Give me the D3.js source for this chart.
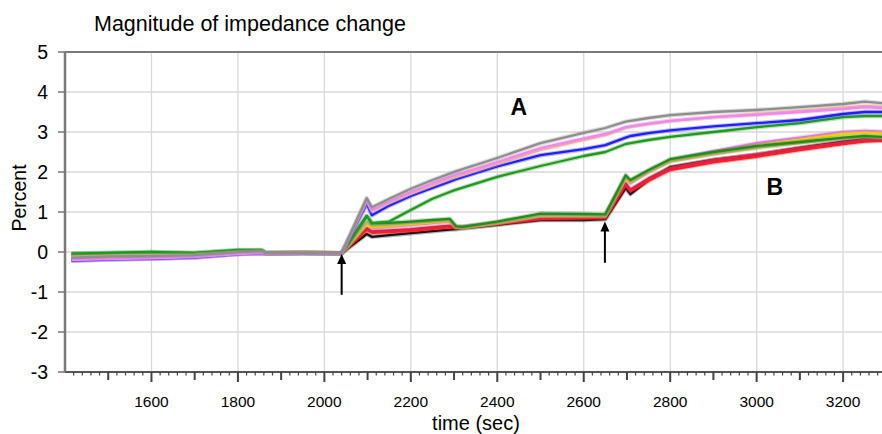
<!DOCTYPE html>
<html>
<head>
<meta charset="utf-8">
<script src="https://cdn.jsdelivr.net/npm/d3@7"></script>
<style>
  body { margin: 0; background: #fff; }
  .chart { width: 882px; height: 434px; }
  text { font-family: "Liberation Sans", Arial, sans-serif; fill: #000; }
</style>
</head>
<body>
<div class="chart"></div>
<script>
// sample times (sec), shared by every trace
var times = [1415, 1500, 1600, 1700, 1800, 1855, 1865, 1950, 2040, 2098, 2110, 2150, 2200, 2250, 2290, 2305, 2320,
             2400, 2500, 2600, 2650, 2697, 2708, 2750, 2800, 2900, 3000, 3100, 3200, 3250, 3290];

// group A traces (percent)
var grayA   = [-0.14,-0.11,-0.10,-0.08,0.00,0.02,-0.03,-0.02,-0.03, 1.35,1.12,1.33,1.58,1.80,1.96,2.02,2.07,2.35,2.72,2.98,3.10,3.26,3.28,3.35,3.42,3.50,3.55,3.62,3.70,3.76,3.72];
var violetA = [-0.20,-0.18,-0.16,-0.13,-0.05,-0.03,-0.04,-0.03,-0.03, 1.30,1.05,1.26,1.50,1.72,1.88,1.94,1.98,2.25,2.60,2.84,2.95,3.12,3.14,3.21,3.28,3.37,3.43,3.50,3.57,3.62,3.60];
var tanA    = [-0.12,-0.10,-0.08,-0.07,-0.01,0.01,-0.03,-0.02,-0.03, 1.28,1.02,1.23,1.46,1.67,1.83,1.88,1.93,2.20,2.55,2.80,2.92,3.10,3.13,3.20,3.27,3.37,3.45,3.53,3.61,3.65,3.63];
var blueA   = [-0.22,-0.19,-0.17,-0.14,-0.05,-0.03,-0.04,-0.03,-0.03, 1.20,0.92,1.16,1.40,1.60,1.76,1.82,1.87,2.14,2.42,2.57,2.67,2.86,2.90,2.97,3.04,3.14,3.22,3.30,3.45,3.50,3.50];
var greenA  = [-0.04,-0.02,0.00,-0.02,0.05,0.05,-0.02,-0.02,-0.03, 0.90,0.72,0.76,1.05,1.33,1.50,1.56,1.61,1.88,2.15,2.40,2.50,2.70,2.72,2.80,2.88,3.00,3.12,3.22,3.37,3.40,3.40];

// group B traces (percent)
var greenB   = [-0.05,-0.03,-0.01,-0.03,0.04,0.04,-0.02,-0.02,-0.03, 0.90,0.72,0.73,0.76,0.80,0.83,0.64,0.63,0.76,0.96,0.95,0.94,1.92,1.80,2.05,2.32,2.50,2.65,2.75,2.86,2.90,2.88];
var khakiB   = [-0.10,-0.08,-0.07,-0.06,0.00,0.02,-0.03,-0.02,-0.03, 0.75,0.66,0.68,0.72,0.76,0.80,0.61,0.60,0.72,0.90,0.90,0.90,1.88,1.76,2.00,2.26,2.44,2.60,2.72,2.84,2.88,2.86];
var yellowB  = [-0.13,-0.11,-0.09,-0.08,-0.02,0.00,-0.03,-0.02,-0.03, 0.70,0.62,0.65,0.70,0.74,0.78,0.63,0.62,0.74,0.92,0.92,0.92,1.85,1.75,2.02,2.28,2.48,2.66,2.80,2.95,2.98,2.96];
var violetB  = [-0.21,-0.18,-0.16,-0.13,-0.05,-0.03,-0.04,-0.03,-0.03, 0.72,0.60,0.63,0.67,0.72,0.76,0.63,0.62,0.74,0.92,0.92,0.92,1.85,1.72,2.00,2.30,2.52,2.72,2.86,3.00,3.03,3.01];
var crimsonB = [-0.15,-0.13,-0.11,-0.09,-0.03,-0.01,-0.03,-0.02,-0.03, 0.60,0.52,0.54,0.57,0.62,0.66,0.63,0.63,0.72,0.85,0.87,0.88,1.72,1.56,1.84,2.10,2.30,2.44,2.60,2.74,2.80,2.80];
var redB     = [-0.14,-0.12,-0.10,-0.08,-0.02,0.00,-0.03,-0.02,-0.03, 0.55,0.48,0.50,0.53,0.58,0.62,0.60,0.61,0.70,0.82,0.84,0.85,1.68,1.52,1.78,2.05,2.24,2.38,2.55,2.70,2.76,2.78];
var blackB   = [-0.18,-0.15,-0.13,-0.11,-0.04,-0.02,-0.04,-0.03,-0.03, 0.45,0.38,0.42,0.47,0.52,0.56,0.57,0.59,0.68,0.80,0.80,0.82,1.60,1.45,1.80,2.12,2.30,2.43,2.60,2.76,2.82,2.80];

var xTicks = [1600, 1800, 2000, 2200, 2400, 2600, 2800, 3000, 3200];
var yTicks = [-3, -2, -1, 0, 1, 2, 3, 4, 5];

// injection arrows: time, tip value, tail value
var arrowTimes = [2040, 2649];
var arrowTips  = [-0.05, 0.76];
var arrowTails = [-1.07, -0.27];

// group labels
var groupNames  = ["A", "B"];
var groupTimes  = [2450, 3042];
var groupValues = [3.42, 1.42];

var traces = [
  {name: "blackB",   color: "#111111", values: blackB},
  {name: "redB",     color: "#ff2222", values: redB},
  {name: "crimsonB", color: "#e0204a", values: crimsonB},
  {name: "violetB",  color: "#d977e0", values: violetB},
  {name: "yellowB",  color: "#f2cf00", values: yellowB},
  {name: "khakiB",   color: "#bcb06a", values: khakiB},
  {name: "greenB",   color: "#228b22", values: greenB},
  {name: "greenA",   color: "#1f9a1f", values: greenA},
  {name: "blueA",    color: "#1f1fff", values: blueA},
  {name: "tanA",     color: "#ebb592", values: tanA},
  {name: "violetA",  color: "#ee88ee", values: violetA},
  {name: "grayA",    color: "#8e8e8e", values: grayA}
];

var margin = {top: 52, right: 0, bottom: 62, left: 65},
    width = 882 - margin.left - margin.right,
    height = 434 - margin.top - margin.bottom;

var x = d3.scaleLinear().domain([1400, 3290]).range([0, width]);
var y = d3.scaleLinear().domain([-3, 5]).range([height, 0]);

var svg = d3.select(".chart").append("svg")
    .attr("width", 882)
    .attr("height", 434);

svg.append("text")
    .attr("x", 94)
    .attr("y", 31)
    .style("font-size", "21.5px")
    .text("Magnitude of impedance change");

var g = svg.append("g")
    .attr("transform", "translate(" + margin.left + "," + margin.top + ")");

svg.append("defs").append("clipPath").attr("id", "clip")
  .append("rect").attr("width", width).attr("height", height);

// grid
g.selectAll(".vgrid").data(xTicks).enter().append("line")
    .attr("x1", function(d) { return x(d); })
    .attr("x2", function(d) { return x(d); })
    .attr("y1", 0).attr("y2", height)
    .attr("stroke", "#d8d8d8").attr("stroke-width", 1.3);

g.selectAll(".hgrid").data(yTicks.slice(1, -1)).enter().append("line")
    .attr("x1", 0).attr("x2", width)
    .attr("y1", function(d) { return y(d); })
    .attr("y2", function(d) { return y(d); })
    .attr("stroke", "#d8d8d8").attr("stroke-width", 1.6);

// top frame line
g.append("line")
    .attr("x1", 0).attr("x2", width)
    .attr("y1", 0).attr("y2", 0)
    .attr("stroke", "#7a7a7a").attr("stroke-width", 2);

// x axis: major every 200, medium every 100, minor every 20
var xAxis = g.append("g").attr("transform", "translate(0," + height + ")");
xAxis.append("line")
    .attr("x1", 0).attr("x2", width)
    .attr("stroke", "#555").attr("stroke-width", 2);

xAxis.selectAll(".tick").data(d3.range(1420, 3291, 20)).enter().append("line")
    .attr("x1", function(d) { return x(d); })
    .attr("x2", function(d) { return x(d); })
    .attr("y1", 0)
    .attr("y2", function(d) { return d % 200 === 0 ? 10 : (d % 100 === 0 ? 8 : 3.5); })
    .attr("stroke", "#444")
    .attr("stroke-width", function(d) { return d % 100 === 0 ? 2 : 1.2; });

xAxis.selectAll(".lbl").data(xTicks).enter().append("text")
    .attr("x", function(d) { return x(d); })
    .attr("y", 35)
    .style("font-size", "15.5px")
    .style("text-anchor", "middle")
    .text(function(d) { return d; });

svg.append("text")
    .attr("x", 476)
    .attr("y", 430)
    .style("font-size", "20px")
    .style("text-anchor", "middle")
    .text("time (sec)");

// y axis
var yAxis = g.append("g");
yAxis.append("line")
    .attr("y1", 0).attr("y2", height)
    .attr("stroke", "#7a7a7a").attr("stroke-width", 2.5);

yAxis.selectAll(".tick").data(yTicks).enter().append("line")
    .attr("x1", -7).attr("x2", 0)
    .attr("y1", function(d) { return y(d); })
    .attr("y2", function(d) { return y(d); })
    .attr("stroke", "#777").attr("stroke-width", 1.5);

yAxis.selectAll(".lbl").data(yTicks).enter().append("text")
    .attr("x", -17)
    .attr("y", function(d) { return y(d); })
    .attr("dy", "0.36em")
    .style("font-size", "19.5px")
    .style("text-anchor", "end")
    .text(function(d) { return d; });

svg.append("text")
    .attr("transform", "translate(26,198) rotate(-90)")
    .style("font-size", "19.5px")
    .style("text-anchor", "middle")
    .text("Percent");

// traces
var line = d3.line()
    .x(function(d, i) { return x(times[i]); })
    .y(function(d) { return y(d); });

var plot = g.append("g").attr("clip-path", "url(#clip)");

traces.forEach(function(t) {
  plot.append("path")
      .datum(t.values)
      .attr("fill", "none")
      .attr("stroke", t.color)
      .attr("stroke-opacity", 0.3)
      .attr("stroke-width", 4.5)
      .attr("stroke-linejoin", "round")
      .attr("d", line);
  plot.append("path")
      .datum(t.values)
      .attr("class", "line")
      .attr("fill", "none")
      .attr("stroke", t.color)
      .attr("stroke-width", 2.3)
      .attr("stroke-linejoin", "round")
      .attr("d", line);
});

// arrows
arrowTimes.forEach(function(t, i) {
  var ax = x(t), tip = y(arrowTips[i]), tail = y(arrowTails[i]);
  g.append("line")
      .attr("x1", ax).attr("x2", ax)
      .attr("y1", tail).attr("y2", tip + 6)
      .attr("stroke", "#000").attr("stroke-width", 2);
  g.append("path")
      .attr("d", "M" + ax + "," + tip + "L" + (ax - 4.5) + "," + (tip + 10) + "L" + (ax + 4.5) + "," + (tip + 10) + "Z")
      .attr("fill", "#000");
});

g.selectAll(".grp").data(groupNames).enter().append("text")
    .attr("x", function(d, i) { return x(groupTimes[i]); })
    .attr("y", function(d, i) { return y(groupValues[i]); })
    .style("font-size", "23px")
    .style("font-weight", "bold")
    .style("text-anchor", "middle")
    .text(function(d) { return d; });
</script>
</body>
</html>
